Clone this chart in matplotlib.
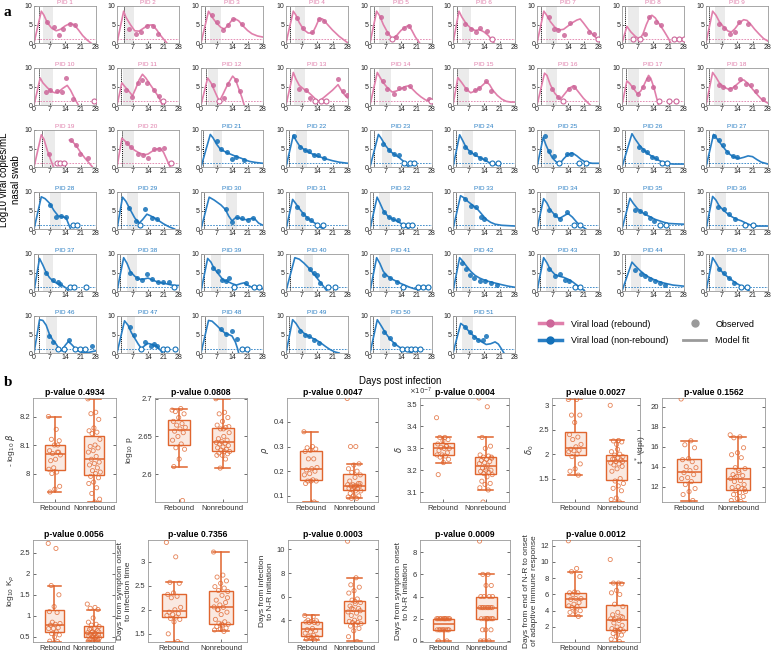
import numpy as np
import matplotlib.pyplot as plt
from matplotlib.lines import Line2D
from matplotlib.ticker import FormatStrFormatter

plt.rcParams['font.family'] = ['Liberation Sans', 'DejaVu Sans']

# ---------------- panel a data (one entry per PID) ----------------
onset_day = [2.1, 3.0, 1.8, 1.8, 1.9, 1.9, 1.9, 1.5, 1.5,
             2.1, 1.8, 2.2, 1.8, 1.8, 1.6, 1.9, 1.9, 1.5,
             3.6, 2.2, 1.0, 1.5, 1.8, 1.5, 2.0, 1.5, 1.5,
             2.2, 1.8, 1.5, 1.5, 1.5, 1.5, 1.5, 2.0, 1.5,
             2.0, 1.5, 1.5, 2.0, 1.5, 1.5, 1.5, 1.5, 1.5,
             2.1, 1.8, 1.8, 1.5, 1.5, 1.5]

shade_days = [(4, 8.8), (3, 7.9), (4.2, 9), (4, 8.8), (4, 9), (4.2, 8.2), (4.2, 9), (2.5, 7.8), (3.9, 8.7),
              (3, 8.5), (2.5, 7.9), (3, 7.9), (3.7, 8.8), (4, 9.3), (2.4, 7.2), (3.9, 9), (2.7, 7.5), (3.7, 8.7),
              (4.3, 9.6), (2.5, 7.5), (5.2, 9.7), (4.5, 9.5), (5.5, 10), (4, 9), (3, 7.5), (5, 10), (4, 8.5),
              (7, 12), (4.5, 9.4), (11.2, 16.1), (4, 9), (4, 9), (5, 10), (4, 9), (5, 9.5), (4, 9),
              (4, 8.5), (4.5, 9), (4.5, 9), (8, 12), (4, 9), (4, 8.5), (4, 9), (4, 8.5), (4, 9),
              (5.5, 10.4), (4.5, 8.2), (7.5, 11.9), (4.5, 9), (4.5, 9), (4, 9)]

model_fit = [
    [(0, 0), (3.3, 8.6), (4.5, 7.5), (6, 5.5), (8, 4), (10, 3.3), (12, 3.7), (14, 4.6), (16, 5.2), (18, 5), (20, 3.6), (22, 2), (24, 0.8), (25.7, 0)],
    [(0, 0), (3, 8.6), (4, 7), (6, 5), (8, 3.3), (10, 3.2), (12, 4), (14, 4.8), (16, 4.9), (18, 3.5), (20, 1.8), (22.5, 0)],
    [(0, 0), (3.4, 8.6), (5, 7), (7, 5.4), (9, 4.2), (10.5, 3.8), (12, 4.6), (14, 6.2), (15.5, 6.5), (17, 6), (19, 4.6), (21, 3.4), (23, 2.5), (25.5, 1.9), (28, 1.6)],
    [(0, 0), (3.3, 8.6), (4.5, 7.5), (6, 5.5), (8, 3.6), (10, 2.7), (12, 2.7), (13.5, 4.5), (15, 6.6), (16.5, 6.5), (18, 5.5), (21, 3.5), (24, 1.8), (28, 0)],
    [(0, 0), (3, 8.6), (4.5, 7.2), (6, 5), (8, 2.8), (10, 1.2), (12, 2), (14, 3.4), (16, 4.3), (17.5, 4.8), (19, 3.3), (20.5, 1.6), (22.4, 0)],
    [(0, 0), (2.7, 8.6), (4, 7), (6, 5.2), (8, 4), (10, 3.4), (12, 3.6), (14, 3), (16, 2), (18.5, 0)],
    [(0, 0), (3.1, 8.6), (4.5, 7.4), (6, 5.8), (8, 4.3), (10, 3.5), (12, 3.7), (14, 4.6), (16, 5.5), (18, 6.2), (19.5, 6.5), (21, 5.4), (23, 3.8), (25, 2.4), (27, 1.2)],
    [(0, 0), (2.2, 4.5), (4, 3), (6, 1.8), (8, 1), (9.5, 2.5), (11, 5), (12.5, 7), (13.5, 7.5), (15, 6.8), (17, 5), (19, 3.2), (21, 1.2), (22, 0)],
    [(0, 0), (3, 8.6), (4.5, 7.5), (6, 5.8), (8, 4.3), (10, 3.2), (11.5, 3), (13, 3.8), (15, 5.4), (17, 6.3), (18.5, 6.1), (20, 5.2), (22, 3.7), (24, 2.4), (26, 1.2), (28, 0.5)],
    [(0, 0), (2.8, 7.3), (4, 6), (6, 4.7), (8, 3.6), (9.5, 3.3), (11, 3.5), (13, 4.5), (15, 5.3), (16.5, 4), (18, 2.2), (20, 0)],
    [(0, 0), (2.2, 6), (3.5, 5), (5, 4), (7, 2.5), (8.5, 4.5), (10, 6.8), (11.5, 8.3), (13, 7.3), (15, 5.5), (17, 3.8), (19, 2), (20.5, 0)],
    [(0, 0), (3, 7.3), (4.5, 6), (6, 4), (7.5, 2), (8.3, 1), (10, 3), (12, 5.5), (14.3, 7.8), (15.5, 7), (17, 4.5), (18.5, 2), (19.5, 0)],
    [(0, 0), (3.3, 8.8), (4.5, 7), (6, 5.3), (8, 4.3), (10, 3.5), (12, 2.4), (14, 1.2), (15, 1), (18, 2.5), (21, 4), (23.5, 5.5), (25, 4), (26.5, 2.7), (28, 1.8)],
    [(0, 0), (3.3, 8.8), (4.5, 7.5), (6, 6), (8, 4.6), (10, 3.5), (12, 3.8), (14, 4.4), (16, 5), (17.5, 5.2), (19, 4.4), (21, 3.2), (23, 2.2), (25, 1.4), (28, 0.8)],
    [(0, 0), (2.2, 7.4), (4, 6), (6, 4.3), (8, 3.3), (10, 3.8), (12, 4.6), (14, 5.7), (15, 6.3), (16.5, 5.5), (18, 4), (20, 2.6), (22, 1.6), (24, 1), (26, 0.8), (28, 0.8)],
    [(0, 0), (3.4, 8.6), (4.5, 8), (6, 5.5), (8, 3.2), (10.5, 1.5), (12.5, 3), (14.5, 4.5), (16.5, 5.2), (18.5, 3.7), (21, 1.8), (24, 0)],
    [(0, 0), (2.2, 6.5), (3.5, 5.8), (5, 4.6), (7, 3), (8.5, 3.8), (10, 5.5), (12, 8), (13, 7.2), (14.5, 4.5), (15.5, 2.2), (16.5, 0)],
    [(0, 0), (3, 8.8), (4.5, 7.5), (6, 6), (8, 4.9), (10, 4.3), (12, 4.6), (14, 5.6), (16, 6.6), (17, 6.8), (19, 5.8), (21, 4.3), (23, 2.9), (25, 1.6), (26.5, 1), (28, 0.5)],
    [(0, 0), (3.3, 8.7), (4.5, 7.5), (6, 4.5), (7.5, 2), (8.8, 0), (np.nan, np.nan), (16, 7.3), (17.5, 6.8), (19, 5.8), (21, 4), (23, 2.4), (25, 1), (26.4, 0)],
    [(0, 0), (2.2, 7.8), (4, 6.8), (6, 5.5), (8, 4.5), (10, 3.8), (12.5, 3.3), (14, 3.5), (16, 4.3), (18, 4.9), (19.5, 5), (21, 4), (22.5, 2), (24, 0)],
    [(0, 0), (4.2, 8.8), (5.5, 7.8), (7, 6.2), (8.5, 5), (10, 4.4), (12, 3.8), (14, 3.3), (16, 2.8), (18, 2.4), (20, 1.9), (22, 1.5), (25, 1.2), (28, 1)],
    [(0, 0), (3.3, 8.6), (4.5, 7.2), (6, 5.8), (8, 4.8), (10, 4.1), (12, 3.5), (14, 3), (16, 2.6), (18, 2.2), (21, 1.7), (24, 1.3), (28, 1)],
    [(0, 0), (3.8, 8.8), (5, 7.8), (7, 5.8), (9, 4.3), (11, 3.4), (13, 2.6), (15, 1.6), (16.5, 0.5), (17.5, 0)],
    [(0, 0), (3, 8.7), (4.5, 7), (6, 5.2), (8, 4), (10, 3.2), (12, 2.6), (14, 2), (16, 1.3), (18, 0.8), (21, 0.5)],
    [(0, 0), (2.8, 8), (4, 6), (5.5, 4), (7, 2.4), (9, 1.2), (10.5, 1), (12, 2.2), (14, 3.4), (16, 3.8), (18, 3), (20, 2), (22, 1.3), (25, 1), (28, 1)],
    [(0, 0), (4.5, 9), (6, 7.5), (8, 5.8), (10, 4.5), (12, 3.5), (14, 2.7), (16, 2), (18, 1.4), (20, 1), (23, 0.8), (28, 0.8)],
    [(0, 0), (3.4, 8.8), (5, 7.6), (7, 6), (9, 4.5), (11, 3.3), (13, 2.6), (15, 2.3), (17, 2.6), (19, 3), (21, 2.8), (23, 2), (25, 1.3), (28, 0.8)],
    [(0, 0), (3.3, 8.7), (5, 8.2), (7, 7), (9, 5), (11, 3.5), (13, 3.3), (14.5, 3), (15.5, 1.5), (16.5, 0)],
    [(0, 0), (2.5, 8.6), (4, 7.5), (6, 5.2), (8, 3), (10, 1.6), (11.5, 2.5), (13.5, 4), (15, 3.6), (17, 3), (19, 2.2), (21, 1.4), (23.5, 0.6), (26, 0)],
    [(0, 0), (3.7, 8.6), (6, 7.8), (9, 6.5), (11, 5.3), (12.5, 3.5), (14, 2.2), (15.5, 3), (17, 3), (19, 2.6), (21, 2.5), (23, 2.9), (24.5, 2.6), (26, 1.6), (28, 1)],
    [(0, 0), (3, 8), (4.5, 6.8), (6, 5.5), (8, 4), (10, 2.8), (12, 2), (14, 1.2), (15.5, 0.5), (17, 0)],
    [(0, 0), (3.2, 8.6), (4.5, 7), (6, 5), (8, 3.5), (10, 2.7), (12, 2.2), (14, 1.5), (16, 0.7), (17.5, 0)],
    [(0, 0), (3.4, 9), (5, 8.4), (7, 7.3), (9, 6.4), (11, 5.4), (13, 4), (15, 2.6), (17, 1.8), (19, 1.3), (22, 1), (28, 0.8)],
    [(0, 0), (3, 8.2), (4.5, 7), (6, 5.2), (8, 3.8), (10, 2.8), (12, 3.5), (14, 4.2), (16, 3.2), (18, 1.8), (20, 0.8), (22, 0)],
    [(0, 0), (3.6, 8.3), (5, 7), (7, 5.5), (9, 4.5), (11, 3.8), (13, 3.2), (15, 2.6), (17, 2.2), (19, 1.8), (21, 1.5), (24, 1.4), (28, 1.3)],
    [(0, 0), (3, 8.8), (4.5, 7.8), (6, 6.2), (8, 5), (10, 4), (12, 3.2), (14, 2.6), (16, 2.2), (18, 1.6), (20, 1.1), (22, 0.8), (28, 0.8)],
    [(0, 0), (2.5, 8.8), (4, 7), (5.5, 5), (7, 3.6), (9, 2.5), (11, 1.9), (13, 1.4), (14.5, 0.8), (15.5, 0)],
    [(0, 0), (3, 9), (4.5, 7.5), (6, 5.3), (8, 4), (10, 3.2), (12, 3.2), (14, 3.5), (16, 3), (18, 2.5), (20, 2.2), (22, 2), (24, 1.7), (26, 1.5), (28, 1.5)],
    [(0, 0), (3, 8.8), (4.5, 7.8), (6, 6), (8, 4.5), (10, 3), (12, 2.6), (14, 2), (16, 1.6), (18, 2), (19.5, 2.2), (21, 1.6), (23, 1), (25, 0.7), (28, 0.6)],
    [(0, 0), (4, 9), (6, 8.6), (8, 7.6), (10, 6.4), (12, 5), (14, 3.5), (16, 2), (17.5, 0.8), (18.5, 0)],
    [(0, 0), (3, 9), (4.5, 7.4), (6, 5.3), (8, 4), (10, 3.2), (12, 2.6), (14, 2), (16, 1.5), (18, 1), (20, 0.6), (22, 0.3)],
    [(0, 0), (3, 9), (4.5, 8), (6, 6.8), (8, 5.3), (10, 4.2), (12, 3.5), (14, 3), (16, 2.6), (18, 2.3), (20, 2), (22, 1.7), (25, 1.3), (28, 1)],
    [(0, 0), (3, 9), (4.5, 7.6), (6, 5.8), (8, 4.5), (10, 4), (12, 3.7), (14, 3.2), (16, 2.5), (18, 1.6), (20, 0.8), (21.5, 0)],
    [(0, 0), (4.5, 7.8), (6, 6.8), (8, 5.6), (10, 4.6), (12, 3.8), (14, 3.2), (16, 2.7), (18, 2.3), (20, 2), (23, 1.6), (28, 1.3)],
    [(0, 0), (3, 9), (4.5, 7.6), (6, 6), (8, 4.7), (10, 3.7), (12, 2.8), (14, 2), (16, 1.3), (18, 0.7), (19.5, 0)],
    [(0, 0), (2.5, 9), (4, 8.8), (5.5, 7.5), (7, 5), (8.5, 3.5), (10, 2.4), (11.5, 1), (12.5, 0.6), (14, 2), (15.5, 3.1), (17, 2.3), (19, 1), (21, 0.3), (23, 0), (25, 0.2), (28, 0.6)],
    [(0, 0), (3.4, 8.7), (5, 7.5), (6.5, 5.5), (8, 4), (9.5, 2.5), (11, 1.2), (12.5, 2), (14, 2.6), (16, 2.3), (18, 1.8), (19.5, 0.8), (20.5, 0)],
    [(0, 0), (3.4, 8.8), (5, 8.6), (7, 7.5), (9, 6.3), (11, 5.3), (12.5, 5), (14, 4.6), (15.5, 3), (16.5, 1.2), (17, 0)],
    [(0, 0), (3, 9), (4.5, 8), (6, 6.6), (8, 5.4), (10, 4.6), (12, 4), (14, 3.4), (16, 2.6), (18, 1.7), (20, 0.9), (22, 0.3), (24, 0)],
    [(0, 0), (3.3, 9), (5, 7.4), (7, 5.4), (9, 3.8), (11, 2.6), (13, 1.7), (15, 1), (17, 0.5), (19, 0)],
    [(0, 0), (3.5, 8), (5, 7.3), (7, 6), (9, 4.8), (11, 3.8), (13, 3), (15, 2.3), (17, 2.5), (19, 3), (20.5, 2.4), (22, 1), (23, 0)],
]

observed = [
    [(6, 5.8), (9, 4.2), (11.2, 2.2), (13, 3.8), (16.3, 5.2), (18.4, 4.9)],
    [(5.2, 3.8), (8.5, 2.5), (10.9, 3), (13.4, 4.5), (16.4, 4.7), (18.7, 2.3)],
    [(4.9, 7.7), (7, 5.6), (10.1, 3.5), (12.4, 5), (14.5, 6.5), (18.7, 5.2)],
    [(4.8, 6.8), (7.8, 4.1), (11.9, 2.9), (14.9, 6.6), (17, 5.9)],
    [(4.8, 7.1), (7.9, 2.7), (11.9, 1.6), (15.2, 4.1), (17.5, 4.7)],
    [(5.4, 5.2), (8.2, 3.8), (10.4, 2.9), (12.4, 4.1), (15.4, 3.2)],
    [(5.2, 7.1), (7.9, 3.8), (9.4, 3.4), (12.1, 2.1), (15.1, 5.5), (23.6, 2.9), (25.8, 2.3)],
    [(10.4, 2.3), (12.4, 7.1), (15.4, 5.6), (17.6, 4.8)],
    [(6, 5.2), (8.2, 4), (10.9, 2.5), (13.1, 2.9), (15.1, 5.7), (19.1, 5.2)],
    [(5.2, 3.5), (7.3, 4.1), (10.3, 3.8), (12.5, 3.5), (14.5, 7.3), (17.8, 1.5)],
    [(4.2, 4.1), (6.7, 2.1), (9.7, 5.9), (11.5, 6.8), (13.7, 5.9), (16.7, 4.1), (19, 2.5)],
    [(5.2, 5.5), (10.4, 1.8), (12.4, 5.7), (15.7, 6.8), (17.5, 3.9)],
    [(5.8, 4.4), (9, 4.1), (11, 2), (23.4, 7.1), (25.7, 3.8), (27.5, 2.7)],
    [(5.7, 6.5), (7.9, 4.3), (10.9, 3), (13, 4.5), (15.2, 4.5), (18.2, 5.2), (26.6, 1.6)],
    [(5.7, 4.4), (9.9, 4.1), (11.9, 4.5), (15.1, 6.4), (17.2, 3.9)],
    [(6.7, 4.3), (9.4, 2.1), (14.6, 4.3), (16.9, 4.8)],
    [(4.8, 5), (7, 2.9), (9.7, 4.8), (11.9, 7.1), (13.9, 5)],
    [(6, 5.5), (7.9, 4.8), (10.9, 4.4), (13.1, 5), (15.4, 7.1), (17.9, 5.6), (20.1, 5.5), (22.5, 3.8), (25.8, 1.6)],
    [(6.6, 3.5), (16.7, 7.2), (19, 6), (20.9, 3.5), (24.2, 2.5)],
    [(4.5, 6.5), (6.4, 5.4), (9.7, 3.5), (11.9, 3.2), (14.2, 2.5), (16.9, 4.9), (19.1, 5), (21.2, 5.2)],
    [(7, 6.9), (9, 4.9), (11.9, 4), (14.2, 2.2), (15.9, 2.7), (19.4, 2)],
    [(3.6, 8.3), (6.5, 5.3), (8.5, 4.5), (10.5, 4.2), (12.5, 3.3), (14.5, 3.2), (17, 2.5)],
    [(6, 6.2), (8.5, 4.6), (11, 3.6), (13, 3.2)],
    [(5.5, 5.3), (7.5, 4), (10, 3.6), (12, 2.5), (14.5, 2.2)],
    [(3.4, 8.3), (5.5, 4.2), (7.5, 3.1), (13.5, 3.4), (15.5, 3.6)],
    [(7.5, 5.5), (9.5, 4.6), (11.5, 4), (13.5, 2.8), (15.5, 2.5)],
    [(3.6, 8.5), (5.8, 7.4), (7.5, 6), (9.5, 4), (12, 3), (14, 2.7)],
    [(7, 6.5), (10, 3.3), (12.2, 3.5), (14.5, 3.3)],
    [(5.5, 5.8), (8.5, 2.2), (12.7, 5.3), (15.7, 3.1), (17.9, 2.6)],
    [(11.2, 5.5), (14.2, 2), (16.1, 3.3), (18.7, 2.9), (21.3, 2.4), (23.6, 2.9)],
    [(5, 6), (7.5, 4), (9.5, 3), (11.5, 2.5)],
    [(6.5, 4.5), (8.5, 3.3), (10.5, 2.8), (12.5, 2.5)],
    [(5.5, 8), (8, 6.2), (10.5, 6), (12.5, 3.2), (14, 2.6)],
    [(5.5, 5.2), (8, 3.7), (10.5, 2.8), (13.5, 4.5)],
    [(6, 5.2), (8, 4.8), (10.5, 4.2), (12.5, 3), (14.5, 2.2)],
    [(5.5, 6), (8, 5.5), (10.5, 4), (13, 2.7)],
    [(5.5, 5), (8.5, 2.9), (10.7, 2.3), (11.9, 1.8)],
    [(6, 5), (9, 3.6), (11.5, 2.9), (13.4, 4.5), (16, 3.2), (18.4, 2.5), (20.9, 2.5), (23.4, 2.3)],
    [(5.2, 6.2), (7.5, 5.3), (9.7, 2.9), (11.5, 2.6), (12.7, 3.4), (20.4, 2.2)],
    [(11, 6), (12.5, 5), (14, 4.2), (15.5, 2.2)],
    [(6.5, 4.2), (9, 3.5), (12, 2.3)],
    [(4, 7.6), (6, 6), (7.5, 4.2), (9.5, 3.6), (12, 2.8), (14.5, 2.6), (17, 2.2), (20, 1.6)],
    [(5.5, 6), (8, 4), (10.5, 4.5), (12.5, 3), (14.5, 2.6)],
    [(6, 5.6), (8.5, 4.5), (10.5, 4), (12.5, 3.2), (15, 2.6), (17, 2.2), (19.5, 1.6)],
    [(6, 6), (8, 5), (10.5, 3.6), (12.5, 2.2)],
    [(6.7, 4.7), (8.8, 3.1), (16, 3.4), (26.1, 2)],
    [(5.7, 7), (7.8, 4.9), (12.7, 2.9), (15.2, 2), (16.9, 2.5), (18.2, 2)],
    [(9, 6.4), (11.2, 5.2), (14.2, 6), (16.1, 3.8)],
    [(6.5, 6), (8.5, 5), (10.5, 4.6), (12.5, 3.6), (15, 2.6)],
    [(6.5, 5.8), (9, 4), (11, 2.4)],
    [(5.5, 7), (7.5, 5.6), (9.5, 4.2), (11.5, 3.5), (13.5, 3.6), (15, 4.5)],
]

# days with viral load below the limit of detection (open circles)
censored_days = [
    [], [], [], [], [10.1], [17.6], [27.6], [4.9, 8.2, 23.6, 25.8, 27.9], [],
    [26.9], [20.9], [8.2], [13, 16, 18.2], [27.6], [], [11.6], [16.9, 21.3, 24.2], [],
    [10.4, 11.9, 13.7], [24.2], [], [], [15.5, 18, 20], [17.5, 20.5], [10, 19, 22], [18, 20.5], [],
    [17.5, 19.4], [10.4], [], [14, 16.5], [15, 17, 19], [], [16.5, 19.5], [17, 20], [17.5, 21],
    [16.4, 18.2, 23.4], [25.8], [15, 23.8, 26], [19, 22], [15, 21.5, 24, 26], [], [17, 19.5], [], [16, 18.5],
    [11, 13.7, 18.7, 20.9, 23.1], [10.9, 20.6, 22.7, 26.4], [18.4, 20.9], [], [14.5, 16.5, 18.5, 20.5, 22.5], [],
]
n_rebound = 20
detect_limit = 1

# ---------------- panel b data ----------------
groups = ['Rebound', 'Nonrebound']
box_titles = ['p-value 0.4934', 'p-value 0.0808', 'p-value 0.0047', 'p-value 0.0004',
              'p-value 0.0027', 'p-value 0.1562', 'p-value 0.0056', 'p-value 0.7356',
              'p-value 0.0003', 'p-value 0.0009', 'p-value 0.0012']
box_ylabels = [r'- log$_{10}$ $\beta$', r'log$_{10}$ p', r'$\rho$', r'$\delta$', r'$\delta_0$',
               r't$^*$ (dpi)', r'log$_{10}$ K$_\rho$', 'Days from symptom onset\nto infection time',
               'Days from infection\nto N-R initiation', 'Days from symptom onset\nto N-R initiation',
               'Days from end of N-R to onset\nof adaptive immune response']

beta_reb = [8.2, 8.155, 8.12, 8.115, 8.1, 8.08, 8.075, 8.07, 8.065, 8.05, 8.045, 8.075, 8.02, 8.015,
            8.005, 8.0, 7.955, 7.945, 7.935, 8.1]
beta_non = [8.262, 8.215, 8.21, 8.19, 8.16, 8.15, 8.145, 8.14, 8.12, 8.1, 8.095, 8.09, 8.08, 8.075,
            8.06, 8.05, 8.04, 8.035, 8.03, 8.02, 8.01, 8.005, 8.0, 7.99, 7.985, 7.97, 7.965, 7.95,
            7.93, 7.91, 7.9]
p_reb = [2.685, 2.687, 2.683, 2.68, 2.675, 2.67, 2.667, 2.665, 2.662, 2.66, 2.657, 2.655, 2.65, 2.645,
         2.64, 2.635, 2.633, 2.62, 2.61, 2.565]
p_non = [2.70, 2.682, 2.68, 2.675, 2.67, 2.665, 2.662, 2.66, 2.655, 2.65, 2.647, 2.645, 2.643, 2.642,
         2.641, 2.64, 2.638, 2.636, 2.635, 2.633, 2.632, 2.63, 2.63, 2.628, 2.627, 2.625, 2.625, 2.62,
         2.608, 2.663, 2.66]
rho_reb = [0.36, 0.3, 0.295, 0.29, 0.285, 0.28, 0.25, 0.25, 0.215, 0.21, 0.205, 0.2, 0.19, 0.185,
           0.165, 0.16, 0.16, 0.16, 0.15, 0.075]
rho_non = [0.495, 0.3, 0.3, 0.23, 0.225, 0.21, 0.2, 0.195, 0.185, 0.175, 0.16, 0.15, 0.145, 0.145,
           0.14, 0.14, 0.14, 0.135, 0.13, 0.13, 0.125, 0.12, 0.12, 0.11, 0.1, 0.1, 0.095, 0.09, 0.09,
           0.15, 0.14]
delta_reb = [3.44, 3.35, 3.35, 3.34, 3.335, 3.32, 3.31, 3.305, 3.3, 3.3, 3.29, 3.28, 3.27, 3.27,
             3.265, 3.26, 3.25, 3.235, 3.18, 3.31]
delta_non = [3.53, 3.49, 3.35, 3.31, 3.3, 3.27, 3.265, 3.26, 3.255, 3.25, 3.245, 3.24, 3.235, 3.23,
             3.22, 3.21, 3.2, 3.2, 3.195, 3.19, 3.185, 3.18, 3.17, 3.15, 3.14, 3.135, 3.12, 3.11,
             3.055, 3.26, 3.21]
delta0_reb = [3.12, 3.12, 2.8, 2.8, 2.65, 2.4, 2.35, 2.3, 2.2, 2.15, 2.1, 2.08, 2.07, 2.05, 2.0,
              1.95, 1.8, 1.7, 1.65, 1.57]
delta0_non = [3.0, 2.28, 2.27, 2.25, 2.2, 2.05, 2.0, 1.98, 1.95, 1.92, 1.9, 1.88, 1.85, 1.82, 1.8,
              1.78, 1.75, 1.7, 1.65, 1.5, 1.45, 1.4, 1.35, 1.3, 1.25, 1.1, 1.07, 1.02, 1.9, 1.85, 2.1]
tstar_reb = [20.8, 16.6, 16.2, 15.9, 14.8, 14.7, 14.5, 14.0, 13.9, 13.6, 13.4, 13.2, 12.9, 12.8,
             12.5, 12.2, 11.8, 11.5, 11.2, 10.6]
tstar_non = [17.2, 17.0, 16.9, 15.9, 15.4, 15.2, 14.9, 13.9, 13.8, 13.4, 13.2, 13.1, 13.0, 12.8,
             12.6, 12.5, 12.2, 12.0, 11.9, 11.8, 11.6, 11.5, 11.4, 11.2, 11.0, 10.8, 10.6, 10.5,
             12.9, 11.7, 13.6]
krho_reb = [2.72, 2.6, 1.72, 1.5, 1.22, 1.1, 1.08, 0.85, 0.82, 0.8, 0.78, 0.72, 0.7, 0.7, 0.62,
            0.58, 0.55, 0.5, 0.4, 0.39]
krho_non = [1.28, 1.2, 1.18, 1.15, 0.95, 0.85, 0.8, 0.78, 0.75, 0.7, 0.68, 0.65, 0.62, 0.6, 0.58,
            0.56, 0.55, 0.53, 0.52, 0.5, 0.5, 0.48, 0.46, 0.45, 0.43, 0.42, 0.4, 0.4, 0.7, 0.62, 0.58]
inf_reb = [3.4, 3.1, 2.57, 2.55, 2.35, 2.32, 2.28, 2.25, 2.05, 2.0, 1.95, 1.92, 1.9, 1.88, 1.85,
           1.82, 1.8, 1.75, 1.5, 1.34]
inf_non = [3.2, 2.72, 2.68, 2.6, 2.55, 2.48, 2.45, 2.4, 2.38, 2.3, 2.2, 2.15, 2.1, 2.06, 2.05, 2.0,
           1.95, 1.9, 1.8, 1.75, 1.72, 1.7, 1.68, 1.65, 1.62, 1.6, 1.58, 1.55, 2.0, 2.25, 1.7]
nr_inf_reb = [4.4, 4.3, 4.0, 3.95, 3.9, 3.85, 3.8, 3.8, 3.75, 3.3, 3.2, 3.1, 3.0, 2.9, 2.7, 2.6,
              2.55, 2.5, 2.4, 2.3]
nr_inf_non = [10.7, 7.6, 7.0, 6.8, 6.5, 6.3, 5.8, 5.7, 5.5, 5.4, 5.2, 5.0, 4.9, 4.7, 4.6, 4.4, 4.2,
              4.0, 3.9, 3.8, 3.8, 3.7, 3.6, 3.5, 3.3, 3.1, 2.6, 2.2, 5.0, 4.8, 5.6]
nr_sym_reb = [2, 2, 2, 2, 2, 2, 2, 2, 2, 2, 1, 1, 1, 1, 1, 1, 1, 1, 0, 0]
nr_sym_non = [9, 6, 6, 5, 5, 4, 4, 4, 4, 3, 3, 3, 3, 3, 3, 3, 2, 2, 2, 2, 2, 2, 2, 1, 1, 1, 0, 0, 0, 3, 2]
adapt_reb = [12.6, 9.2, 8.8, 8.2, 6.3, 6.2, 6.2, 6.0, 5.5, 5.5, 5.4, 5.0, 4.8, 4.6, 4.5, 4.4, 4.0,
             3.9, 3.8, 3.3]
adapt_non = [10.3, 7.4, 7.4, 7.3, 6.5, 6.2, 6.0, 4.8, 4.5, 3.8, 3.5, 3.3, 3.1, 3.0, 2.8, 2.5, 2.2,
             2.0, 1.8, 1.7, 1.6, 1.5, 1.4, 1.2, 1.0, 0.8, 0.5, 0.2, 2.9, 3.2, 1.6]

box_data = [(beta_reb, beta_non), (p_reb, p_non), (rho_reb, rho_non), (delta_reb, delta_non),
            (delta0_reb, delta0_non), (tstar_reb, tstar_non), (krho_reb, krho_non),
            (inf_reb, inf_non), (nr_inf_reb, nr_inf_non), (nr_sym_reb, nr_sym_non),
            (adapt_reb, adapt_non)]
box_ylims = [(7.9, 8.265), (2.563, 2.701), (0.075, 0.497), (3.055, 3.53), (1.02, 3.15),
             (10.45, 20.9), (0.38, 2.8), (1.33, 3.45), (2.15, 10.8), (-0.1, 9.1), (0.15, 12.7)]
box_yticks = [[8, 8.1, 8.2], [2.6, 2.65, 2.7], [0.1, 0.2, 0.3, 0.4], [3.1, 3.2, 3.3, 3.4, 3.5],
              [1.5, 2, 2.5, 3], [12, 14, 16, 18, 20], [0.5, 1, 1.5, 2, 2.5], [1.5, 2, 2.5, 3],
              [4, 6, 8, 10], [0, 2, 4, 6, 8], [2, 4, 6, 8, 10, 12]]

# ---------------- figure ----------------
W, H = 774, 656
fig = plt.figure(figsize=(W / 100, H / 100), dpi=100)


def px_axes(x0, y0, w, h):
    return fig.add_axes([x0 / W, 1 - (y0 + h) / H, w / W, h / H])


pink_line, pink_dot = '#e07fab', '#cc6699'
blue_line, blue_dot = '#2a7fc4', '#1370b8'
grid_left = [34, 117, 201, 286, 370, 453, 537, 622, 706]
grid_top = [6, 68, 130, 192, 254, 316]

for i in range(51):
    r, c = divmod(i, 9)
    ax = px_axes(grid_left[c], grid_top[r], 62, 37)
    lc, dc = (pink_line, pink_dot) if i < n_rebound else (blue_line, blue_dot)
    ax.axvspan(*shade_days[i], color='#ebebeb', lw=0, zorder=0)
    ax.axhline(detect_limit, color=lc, ls=(0, (2, 1.5)), lw=0.6, zorder=1)
    ax.axvline(onset_day[i], color='k', ls=(0, (1, 1)), lw=0.7, zorder=1)
    cd, cv = zip(*model_fit[i])
    ax.plot(cd, cv, color=lc, lw=1.2, zorder=2)
    od, ov = zip(*observed[i])
    ax.plot(od, ov, 'o', color=dc, ms=3.6, mec='none', alpha=0.85, zorder=3)
    if censored_days[i]:
        ax.plot(censored_days[i], [detect_limit] * len(censored_days[i]), 'o', mfc='white',
                mec=dc, ms=3.6, mew=0.8, zorder=3)
    ax.set_xlim(0, 28)
    ax.set_ylim(0, 10)
    ax.set_xticks([0, 7, 14, 21, 28])
    ax.set_yticks([0, 5, 10])
    ax.tick_params(labelsize=5, length=1.5, width=0.5, pad=1, direction='in', colors='#222222')
    for s in ax.spines.values():
        s.set_color('#999999')
        s.set_linewidth(0.6)
    ax.set_title(f'PID {i + 1}', fontsize=4.6, color=lc, pad=1.5)

fig.text(10 / W, 1 - 180 / H, 'Log10 viral copies/mL\nnasal swab', rotation=90,
         ha='center', va='center', fontsize=7)
fig.text(400 / W, 1 - 381 / H, 'Days post infection', ha='center', va='center', fontsize=7)
fig.text(4 / W, 1 - 12 / H, 'a', fontsize=11, fontweight='bold', family='Liberation Serif',
         va='center')
fig.text(4 / W, 1 - 383 / H, 'b', fontsize=11, fontweight='bold', family='Liberation Serif',
         va='center')

handles = [Line2D([], [], color=pink_line, lw=2.5, marker='o', ms=5, mfc=pink_dot, mec=pink_dot),
           Line2D([], [], color=blue_line, lw=2.5, marker='o', ms=5, mfc=blue_dot, mec=blue_dot),
           Line2D([], [], ls='none', marker='o', ms=5, color='#9a9a9a'),
           Line2D([], [], color='#9a9a9a', lw=2)]
fig.legend(handles, ['Viral load (rebound)', 'Viral load (non-rebound)', 'Observed', 'Model fit'],
           ncol=2, loc='upper left', bbox_to_anchor=(535 / W, 1 - 316 / H), frameon=False,
           fontsize=6.5, handlelength=2.6, handletextpad=1.0, columnspacing=1.6,
           labelspacing=0.85, borderaxespad=0)

# ---------------- boxplots ----------------
orange = '#e0652e'
box_rects = [(33, 398, 83, 104), (155, 398, 92, 104), (287, 398, 91, 104), (420, 398, 89, 104),
             (552, 398, 88, 104), (662, 398, 103, 104),
             (33, 540, 82, 102), (148, 540, 99, 102), (288, 540, 90, 102), (420, 540, 90, 102),
             (552, 540, 88, 102)]

for k, (reb, non) in enumerate(box_data):
    ax = px_axes(*box_rects[k])
    bp = ax.boxplot([reb, non], positions=[1, 2], widths=0.5, patch_artist=True,
                    showfliers=False, capwidths=0.34)
    for b in bp['boxes']:
        b.set_facecolor((0.88, 0.4, 0.18, 0.14))
        b.set_edgecolor(orange)
        b.set_linewidth(1)
    for part in ('medians', 'whiskers', 'caps'):
        for ln in bp[part]:
            ln.set_color(orange)
            ln.set_linewidth(1.1)
    for g, vals in enumerate((reb, non)):
        n = len(vals)
        jitter = ((np.arange(n) * 0.618034) % 1 - 0.5) * 0.32
        ax.scatter(g + 1 + jitter, vals, s=9, facecolors='none', edgecolors=orange,
                   linewidths=0.6, alpha=0.8, zorder=3)
    ax.set_xlim(0.45, 2.55)
    ax.set_ylim(*box_ylims[k])
    ax.set_yticks(box_yticks[k])
    ax.yaxis.set_major_formatter(FormatStrFormatter('%g'))
    ax.set_xticks([1, 2])
    ax.set_xticklabels(groups)
    ax.tick_params(labelsize=5.5, length=2, width=0.5, pad=2, direction='in', colors='#333333',
                   right=True)
    for s in ax.spines.values():
        s.set_color('#999999')
        s.set_linewidth(0.6)
    ax.set_title(box_titles[k], fontsize=6.2, fontweight='bold', pad=2)
    ax.set_ylabel(box_ylabels[k], fontsize=6, color='#333333', labelpad=2)
    if k == 3:
        ax.text(-0.12, 1.01, r'$\times10^{-7}$', transform=ax.transAxes, fontsize=5,
                color='#333333', va='bottom')

fig.savefig('out.png', dpi=100)
